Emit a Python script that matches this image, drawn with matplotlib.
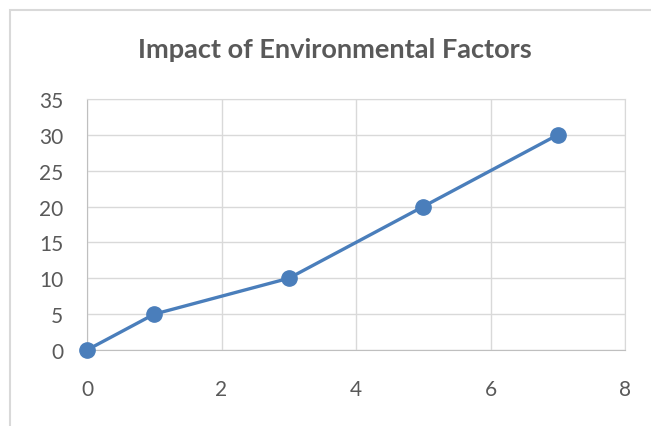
import matplotlib.pyplot as plt
from matplotlib.patches import Rectangle

# data
x_vals = [0, 1, 3, 5, 7]
y_vals = [0, 5, 10, 20, 30]
x_ticks = [0, 2, 4, 6, 8]
y_ticks = [0, 5, 10, 15, 20, 25, 30, 35]
title = "Impact of Environmental Factors"

plt.rcParams['font.family'] = ['Lato', 'DejaVu Sans']

W, H = 651, 427
fig = plt.figure(figsize=(W / 100, H / 100), dpi=100)

# chart border (only left and top visible in the crop)
fig.patches.append(Rectangle((10 / W, -0.1), 1.2, 1 - 11 / H + 0.1,
                             transform=fig.transFigure, fill=False,
                             edgecolor='#d9d9d9', linewidth=1.5))

left, right, top, bottom = 87, 625, 100, 351
ax = fig.add_axes([left / W, 1 - bottom / H, (right - left) / W, (bottom - top) / H])

ax.plot(x_vals, y_vals, color='#4a7ebb', linewidth=2.4, marker='o',
        markersize=11, clip_on=False, zorder=3)

ax.set_xlim(0, 8)
ax.set_ylim(0, 35)
ax.set_xticks(x_ticks)
ax.set_yticks(y_ticks)
ax.grid(True, color='#d9d9d9', linewidth=1)
ax.set_axisbelow(True)
for s in ['top', 'right']:
    ax.spines[s].set_color('#d9d9d9')
for s in ['left', 'bottom']:
    ax.spines[s].set_color('#bfbfbf')
ax.tick_params(length=0, labelsize=15, labelcolor='#595959')
ax.tick_params(axis='x', pad=21)
ax.tick_params(axis='y', pad=17)

fig.text(335 / W, 1 - 58 / H, title, ha='center', va='baseline',
         fontsize=19.5, fontweight='bold', color='#595959')

fig.savefig('out.png', dpi=100)
